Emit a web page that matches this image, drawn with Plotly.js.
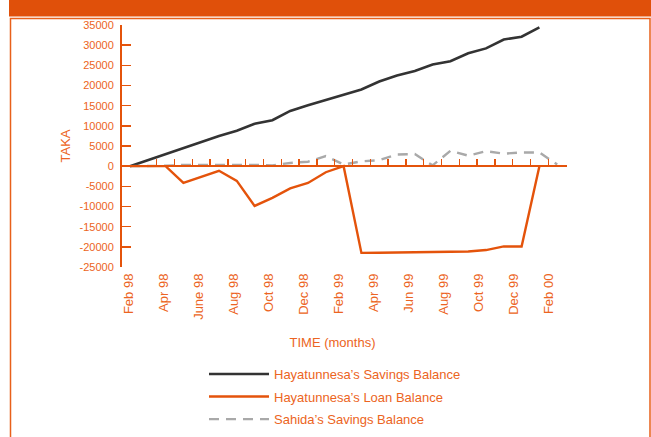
<!DOCTYPE html>
<html>
<head>
<meta charset="utf-8">
<script src="https://cdn.plot.ly/plotly-3.0.1.min.js"></script>
<style>
html,body{margin:0;padding:0;background:#fff;}
#chart{width:651px;height:437px;}
</style>
</head>
<body>
<div id="chart"></div>
<script>
// ---- data (month index 0 = Feb 98) ----
const monthNames = ['Feb 98','Mar 98','Apr 98','May 98','June 98','Jul 98','Aug 98','Sep 98','Oct 98','Nov 98','Dec 98','Jan 99',
  'Feb 99','Mar 99','Apr 99','May 99','Jun 99','Jul 99','Aug 99','Sep 99','Oct 99','Nov 99','Dec 99','Jan 00','Feb 00'];
const tickLabels = ['Feb 98','Apr 98','June 98','Aug 98','Oct 98','Dec 98','Feb 99','Apr 99','Jun 99','Aug 99','Oct 99','Dec 99','Feb 00'];
const tickMonths = [0,2,4,6,8,10,12,14,16,18,20,22,24];
const yTicks = [-25000,-20000,-15000,-10000,-5000,0,5000,10000,15000,20000,25000,30000,35000];
const hayaSavings = [0,1500,3000,4500,5900,7500,8800,10500,11400,13700,15100,16400,17600,19000,21000,22500,23600,25200,26000,28000,29200,31400,32100,34400];
const hayaLoan = [0,0,0,-4150,-2650,-1150,-3650,-9850,-7850,-5500,-4150,-1500,0,-21500,-21450,-21400,-21350,-21300,-21200,-21150,-20800,-19900,-19900,0];
const sahidaSavings = [0,0,100,300,300,400,300,300,200,800,1100,2500,400,1200,1500,2900,3000,200,3800,2600,3700,3100,3400,3400,400];
const seriesNames = ["Hayatunnesa’s Savings Balance","Hayatunnesa’s Loan Balance","Sahida’s Savings Balance"];
const boundaryTicks = monthNames.slice(1).map((_, i) => i + 1.5);
const idx = arr => arr.map((_, i) => i);

const ORANGE = '#E4530B';
const TEXT = '#EC6422';
const FONT = 'Liberation Sans, Arial, sans-serif';

// ---- layout geometry helpers (pixels -> paper) ----
const W = 651, H = 437, L = 100, R = 84, T = 25, B = 170;
const PW = W - L - R, PH = H - T - B;
const px = x => (x - L) / PW;
const py = y => (H - B - y) / PH;

const traces = [
  {x: idx(hayaSavings), y: hayaSavings, name: seriesNames[0], type: 'scatter', mode: 'lines',
   line: {color: '#333333', width: 2.6}, legendgroup: 'a'},
  {x: idx(hayaLoan), y: hayaLoan, name: seriesNames[1], type: 'scatter', mode: 'lines',
   line: {color: ORANGE, width: 2.4}, legendgroup: 'b'},
  {x: idx(sahidaSavings), y: sahidaSavings, name: seriesNames[2], type: 'scatter', mode: 'lines',
   line: {color: '#A9A9A9', width: 2.4, dash: '10px,7px'}, legendgroup: 'c'},
  // empty trace that only makes the month-label axis exist
  {x: [], y: [], xaxis: 'x2', yaxis: 'y', type: 'scatter', mode: 'lines', showlegend: false, hoverinfo: 'skip'}
];

const layout = {
  width: W, height: H,
  margin: {l: L, r: R, t: T, b: B, autoexpand: false},
  paper_bgcolor: '#fff', plot_bgcolor: 'rgba(0,0,0,0)',
  font: {family: FONT, color: TEXT, size: 13},
  showlegend: true,
  legend: {x: px(204), y: py(359), xanchor: 'left', yanchor: 'top', bgcolor: 'rgba(0,0,0,0)',
    font: {family: FONT, size: 13, color: TEXT}, itemwidth: 60, tracegroupgap: 2.7, traceorder: 'grouped'},
  xaxis: {domain: [px(122), 1], range: [(122 - 130) / 17.8, (W - R - 130) / 17.8],
    anchor: 'free', position: 25000 / 60000,
    showgrid: false, zeroline: false, showline: true, linecolor: ORANGE, linewidth: 2,
    tickmode: 'array', tickvals: boundaryTicks, ticks: 'inside', ticklen: 6, tickwidth: 1.5, tickcolor: ORANGE,
    showticklabels: false, fixedrange: true},
  xaxis2: {domain: [px(110), px(555)], range: [(110 - 128.3) / 17.5, (555 - 128.3) / 17.5], anchor: 'y',
    showgrid: false, zeroline: false, showline: false, ticks: '',
    tickmode: 'array', tickvals: tickMonths, ticktext: tickLabels, tickangle: -90,
    tickfont: {family: FONT, size: 13, color: TEXT}, ticklabelstandoff: 3,
    title: {text: 'TIME (months)', font: {family: FONT, size: 13, color: TEXT}, standoff: 19}},
  yaxis: {range: [-25000, 35000], domain: [0, 1], anchor: 'x',
    showgrid: false, zeroline: false, showline: true, linecolor: ORANGE, linewidth: 2,
    tickmode: 'array', tickvals: yTicks, ticktext: yTicks.map(String),
    ticks: 'inside', ticklen: 9, tickwidth: 1.5, tickcolor: ORANGE,
    tickfont: {family: FONT, size: 11, color: TEXT}, ticklabelstandoff: 4,
    title: {text: 'TAKA', font: {family: FONT, size: 13, color: TEXT}, standoff: 6}},
  shapes: [
    {type: 'rect', xref: 'paper', yref: 'paper', x0: px(9), x1: px(660), y0: py(16.5), y1: py(-5),
     fillcolor: '#E0500A', line: {width: 0}, layer: 'below'},
    {type: 'rect', xref: 'paper', yref: 'paper', x0: px(10.5), x1: px(650), y0: py(450), y1: py(18.5),
     fillcolor: 'rgba(0,0,0,0)', line: {color: '#E8601A', width: 1.5}, layer: 'below'}
  ]
};

Plotly.newPlot('chart', traces, layout, {staticPlot: true, displayModeBar: false});
</script>
</body>
</html>
